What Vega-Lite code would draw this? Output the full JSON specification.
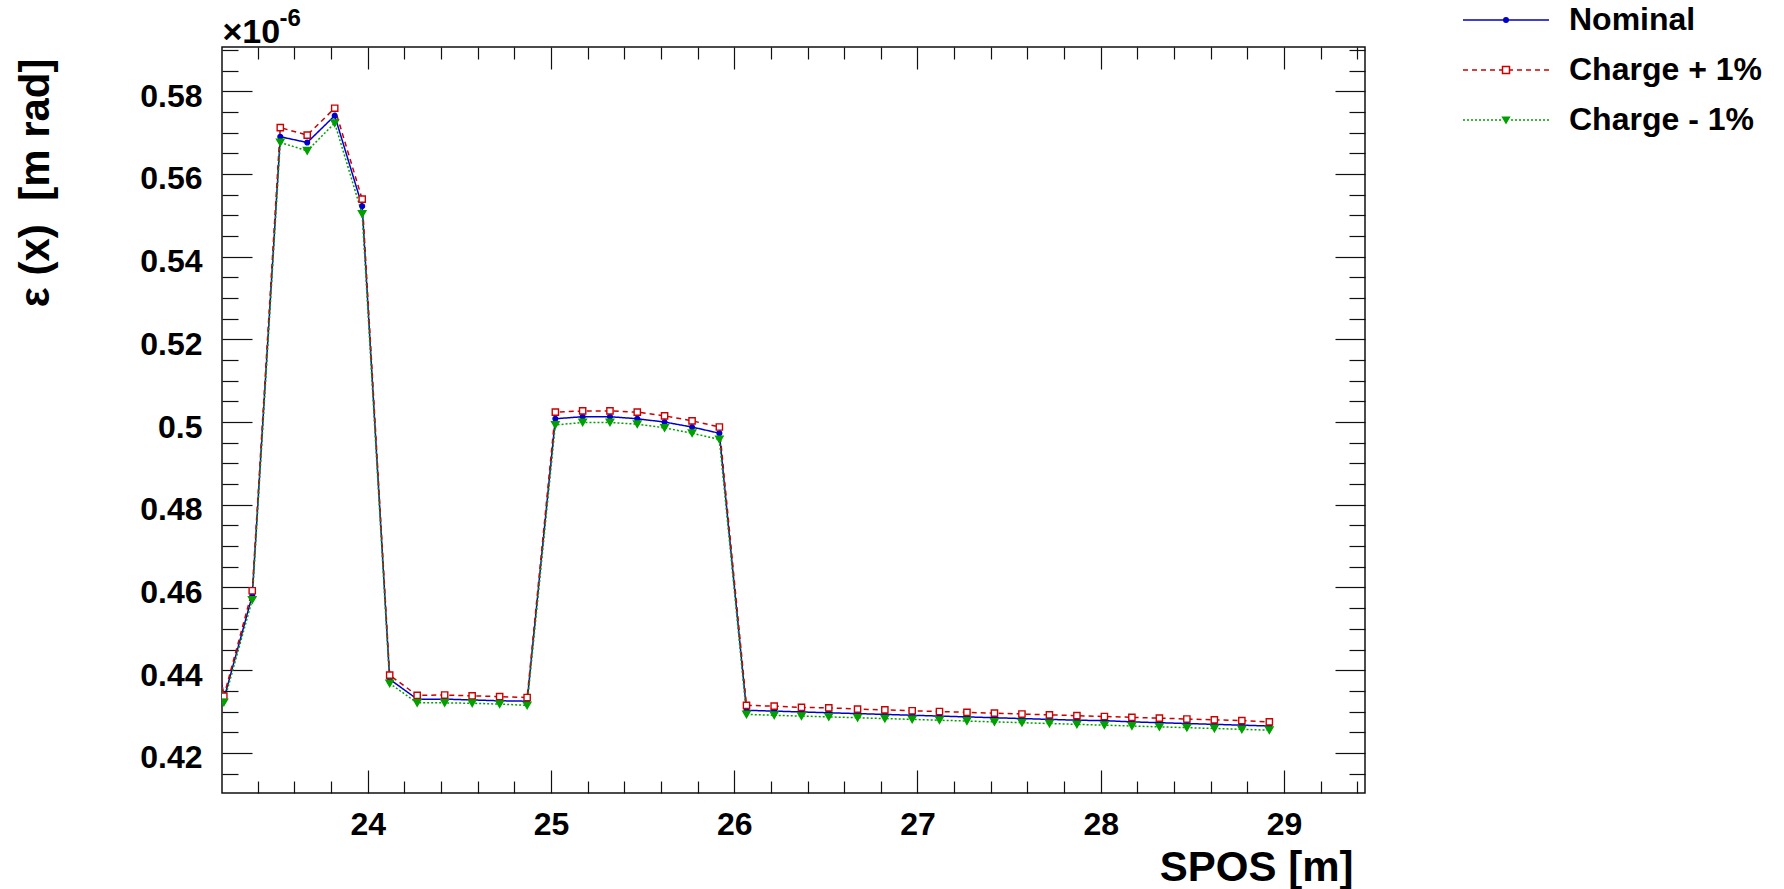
{
  "$schema": "https://vega.github.io/schema/vega-lite/v6.json",
  "width": 1143,
  "height": 746,
  "autosize": {"type": "none"},
  "padding": {"left": 222, "top": 47, "right": 419, "bottom": 96},
  "background": "white",
  "config": {
    "view": {"stroke": "#111111", "strokeWidth": 1.5},
    "font": "Liberation Sans",
    "axis": {
      "domain": false,
      "grid": false,
      "tickColor": "#111111",
      "tickWidth": 1.2,
      "labelFont": "Liberation Sans",
      "labelFontWeight": "bold",
      "labelFontSize": 32,
      "labelColor": "black",
      "titleFont": "Liberation Sans",
      "titleFontWeight": "bold",
      "titleFontSize": 42,
      "titleColor": "black",
      "zindex": 1
    },
    "legend": {
      "orient": "none",
      "legendX": 1268,
      "legendY": -43,
      "title": null,
      "padding": 0,
      "labelFont": "Liberation Sans",
      "labelFontSize": 32,
      "labelFontWeight": "bold",
      "labelColor": "black",
      "labelLimit": 0,
      "labelOffset": 47,
      "rowPadding": 18,
      "symbolSize": 900
    }
  },
  "data": {
    "values": [
      {"s": 23.065, "k": "Nominal", "v": 0.478}, {"s": 23.065, "k": "Charge + 1%", "v": 0.479}, {"s": 23.065, "k": "Charge - 1%", "v": 0.477},
      {"s": 23.215, "k": "Nominal", "v": 0.4330}, {"s": 23.215, "k": "Charge + 1%", "v": 0.4337}, {"s": 23.215, "k": "Charge - 1%", "v": 0.4322},
      {"s": 23.37, "k": "Nominal", "v": 0.4580}, {"s": 23.37, "k": "Charge + 1%", "v": 0.4592}, {"s": 23.37, "k": "Charge - 1%", "v": 0.4570},
      {"s": 23.523, "k": "Nominal", "v": 0.5690}, {"s": 23.523, "k": "Charge + 1%", "v": 0.5712}, {"s": 23.523, "k": "Charge - 1%", "v": 0.5676},
      {"s": 23.67, "k": "Nominal", "v": 0.5676}, {"s": 23.67, "k": "Charge + 1%", "v": 0.5694}, {"s": 23.67, "k": "Charge - 1%", "v": 0.5656},
      {"s": 23.82, "k": "Nominal", "v": 0.5741}, {"s": 23.82, "k": "Charge + 1%", "v": 0.5759}, {"s": 23.82, "k": "Charge - 1%", "v": 0.5723},
      {"s": 23.97, "k": "Nominal", "v": 0.5522}, {"s": 23.97, "k": "Charge + 1%", "v": 0.5539}, {"s": 23.97, "k": "Charge - 1%", "v": 0.5503},
      {"s": 24.12, "k": "Nominal", "v": 0.4378}, {"s": 24.12, "k": "Charge + 1%", "v": 0.4388}, {"s": 24.12, "k": "Charge - 1%", "v": 0.4368},
      {"s": 24.27, "k": "Nominal", "v": 0.4330}, {"s": 24.27, "k": "Charge + 1%", "v": 0.4339}, {"s": 24.27, "k": "Charge - 1%", "v": 0.4321},
      {"s": 24.42, "k": "Nominal", "v": 0.4330}, {"s": 24.42, "k": "Charge + 1%", "v": 0.4340}, {"s": 24.42, "k": "Charge - 1%", "v": 0.4321},
      {"s": 24.57, "k": "Nominal", "v": 0.4328}, {"s": 24.57, "k": "Charge + 1%", "v": 0.4338}, {"s": 24.57, "k": "Charge - 1%", "v": 0.4320},
      {"s": 24.72, "k": "Nominal", "v": 0.4326}, {"s": 24.72, "k": "Charge + 1%", "v": 0.4336}, {"s": 24.72, "k": "Charge - 1%", "v": 0.4318},
      {"s": 24.87, "k": "Nominal", "v": 0.4325}, {"s": 24.87, "k": "Charge + 1%", "v": 0.4334}, {"s": 24.87, "k": "Charge - 1%", "v": 0.4315},
      {"s": 25.024, "k": "Nominal", "v": 0.5008}, {"s": 25.024, "k": "Charge + 1%", "v": 0.5024}, {"s": 25.024, "k": "Charge - 1%", "v": 0.4993},
      {"s": 25.173, "k": "Nominal", "v": 0.5013}, {"s": 25.173, "k": "Charge + 1%", "v": 0.5027}, {"s": 25.173, "k": "Charge - 1%", "v": 0.4999},
      {"s": 25.322, "k": "Nominal", "v": 0.5013}, {"s": 25.322, "k": "Charge + 1%", "v": 0.5027}, {"s": 25.322, "k": "Charge - 1%", "v": 0.4999},
      {"s": 25.471, "k": "Nominal", "v": 0.5008}, {"s": 25.471, "k": "Charge + 1%", "v": 0.5024}, {"s": 25.471, "k": "Charge - 1%", "v": 0.4995},
      {"s": 25.62, "k": "Nominal", "v": 0.5000}, {"s": 25.62, "k": "Charge + 1%", "v": 0.5015}, {"s": 25.62, "k": "Charge - 1%", "v": 0.4986},
      {"s": 25.77, "k": "Nominal", "v": 0.4988}, {"s": 25.77, "k": "Charge + 1%", "v": 0.5003}, {"s": 25.77, "k": "Charge - 1%", "v": 0.4973},
      {"s": 25.919, "k": "Nominal", "v": 0.4973}, {"s": 25.919, "k": "Charge + 1%", "v": 0.4988}, {"s": 25.919, "k": "Charge - 1%", "v": 0.4958},
      {"s": 26.067, "k": "Nominal", "v": 0.4303}, {"s": 26.067, "k": "Charge + 1%", "v": 0.4315}, {"s": 26.067, "k": "Charge - 1%", "v": 0.4293},
      {"s": 26.218, "k": "Nominal", "v": 0.4301}, {"s": 26.218, "k": "Charge + 1%", "v": 0.4313}, {"s": 26.218, "k": "Charge - 1%", "v": 0.4291},
      {"s": 26.367, "k": "Nominal", "v": 0.4299}, {"s": 26.367, "k": "Charge + 1%", "v": 0.4310}, {"s": 26.367, "k": "Charge - 1%", "v": 0.4289},
      {"s": 26.516, "k": "Nominal", "v": 0.4297}, {"s": 26.516, "k": "Charge + 1%", "v": 0.4309}, {"s": 26.516, "k": "Charge - 1%", "v": 0.4287},
      {"s": 26.673, "k": "Nominal", "v": 0.4295}, {"s": 26.673, "k": "Charge + 1%", "v": 0.4306}, {"s": 26.673, "k": "Charge - 1%", "v": 0.4285},
      {"s": 26.822, "k": "Nominal", "v": 0.4293}, {"s": 26.822, "k": "Charge + 1%", "v": 0.4304}, {"s": 26.822, "k": "Charge - 1%", "v": 0.4283},
      {"s": 26.971, "k": "Nominal", "v": 0.4291}, {"s": 26.971, "k": "Charge + 1%", "v": 0.4302}, {"s": 26.971, "k": "Charge - 1%", "v": 0.4281},
      {"s": 27.12, "k": "Nominal", "v": 0.4289}, {"s": 27.12, "k": "Charge + 1%", "v": 0.4300}, {"s": 27.12, "k": "Charge - 1%", "v": 0.4279},
      {"s": 27.27, "k": "Nominal", "v": 0.4287}, {"s": 27.27, "k": "Charge + 1%", "v": 0.4298}, {"s": 27.27, "k": "Charge - 1%", "v": 0.4277},
      {"s": 27.42, "k": "Nominal", "v": 0.4285}, {"s": 27.42, "k": "Charge + 1%", "v": 0.4296}, {"s": 27.42, "k": "Charge - 1%", "v": 0.4275},
      {"s": 27.57, "k": "Nominal", "v": 0.4283}, {"s": 27.57, "k": "Charge + 1%", "v": 0.4294}, {"s": 27.57, "k": "Charge - 1%", "v": 0.4273},
      {"s": 27.72, "k": "Nominal", "v": 0.4281}, {"s": 27.72, "k": "Charge + 1%", "v": 0.4292}, {"s": 27.72, "k": "Charge - 1%", "v": 0.4271},
      {"s": 27.87, "k": "Nominal", "v": 0.4279}, {"s": 27.87, "k": "Charge + 1%", "v": 0.4290}, {"s": 27.87, "k": "Charge - 1%", "v": 0.4269},
      {"s": 28.02, "k": "Nominal", "v": 0.4278}, {"s": 28.02, "k": "Charge + 1%", "v": 0.4288}, {"s": 28.02, "k": "Charge - 1%", "v": 0.4267},
      {"s": 28.17, "k": "Nominal", "v": 0.4275}, {"s": 28.17, "k": "Charge + 1%", "v": 0.4286}, {"s": 28.17, "k": "Charge - 1%", "v": 0.4265},
      {"s": 28.32, "k": "Nominal", "v": 0.4273}, {"s": 28.32, "k": "Charge + 1%", "v": 0.4284}, {"s": 28.32, "k": "Charge - 1%", "v": 0.4263},
      {"s": 28.47, "k": "Nominal", "v": 0.4271}, {"s": 28.47, "k": "Charge + 1%", "v": 0.4282}, {"s": 28.47, "k": "Charge - 1%", "v": 0.4261},
      {"s": 28.62, "k": "Nominal", "v": 0.4269}, {"s": 28.62, "k": "Charge + 1%", "v": 0.4280}, {"s": 28.62, "k": "Charge - 1%", "v": 0.4259},
      {"s": 28.77, "k": "Nominal", "v": 0.4267}, {"s": 28.77, "k": "Charge + 1%", "v": 0.4278}, {"s": 28.77, "k": "Charge - 1%", "v": 0.4257},
      {"s": 28.92, "k": "Nominal", "v": 0.4265}, {"s": 28.92, "k": "Charge + 1%", "v": 0.4275}, {"s": 28.92, "k": "Charge - 1%", "v": 0.4255}
    ]
  },
  "layer": [
    {
      "mark": {"type": "line", "clip": true, "strokeWidth": 1.5},
      "encoding": {
        "x": {
          "field": "s", "type": "quantitative",
          "scale": {"domain": [23.205, 29.442], "nice": false, "zero": false},
          "axis": {
            "orient": "bottom",
            "values": [23.4, 23.6, 23.8, 24, 24.2, 24.4, 24.6, 24.8, 25, 25.2, 25.4, 25.6, 25.8, 26, 26.2, 26.4, 26.6, 26.8, 27, 27.2, 27.4, 27.6, 27.8, 28, 28.2, 28.4, 28.6, 28.8, 29, 29.2, 29.4],
            "format": "~g",
            "tickSize": {"condition": {"test": "abs(datum.value - round(datum.value)) < 1e-6", "value": -23}, "value": -12},
            "labelExpr": "abs(datum.value - round(datum.value)) < 1e-6 ? datum.label : ''",
            "labelPadding": 39,
            "labelFlush": false,
            "labelOverlap": false,
            "title": "SPOS [m]",
            "titleX": 1131,
            "titleY": 87,
            "titleAlign": "right",
            "titleAnchor": "end",
            "titleBaseline": "alphabetic"
          }
        },
        "y": {
          "field": "v", "type": "quantitative",
          "scale": {"domain": [0.4103, 0.5907], "nice": false, "zero": false},
          "axis": {
            "orient": "left",
            "values": [0.415, 0.42, 0.425, 0.43, 0.435, 0.44, 0.445, 0.45, 0.455, 0.46, 0.465, 0.47, 0.475, 0.48, 0.485, 0.49, 0.495, 0.5, 0.505, 0.51, 0.515, 0.52, 0.525, 0.53, 0.535, 0.54, 0.545, 0.55, 0.555, 0.56, 0.565, 0.57, 0.575, 0.58, 0.585, 0.59],
            "format": "~g",
            "tickSize": {"condition": {"test": "abs(datum.value * 50 - round(datum.value * 50)) < 1e-6", "value": -30}, "value": -16},
            "labelExpr": "abs(datum.value * 50 - round(datum.value * 50)) < 1e-6 ? datum.label : ''",
            "labelPadding": 50,
            "labelOffset": 5,
            "labelFlush": false,
            "labelOverlap": false,
            "title": "ε (x)\u00a0\u00a0[m rad]",
            "titleX": -174,
            "titleY": 11,
            "titleAngle": 270,
            "titleAlign": "right",
            "titleAnchor": "end",
            "titleBaseline": "alphabetic"
          }
        },
        "color": {
          "field": "k", "type": "nominal",
          "scale": {"domain": ["Nominal", "Charge + 1%", "Charge - 1%"], "range": ["#0000cc", "#cc0000", "#00a000"]},
          "legend": null
        },
        "strokeDash": {
          "field": "k", "type": "nominal",
          "scale": {"domain": ["Nominal", "Charge + 1%", "Charge - 1%"], "range": [[1, 0], [5, 4], [2, 2]]},
          "legend": null
        }
      }
    },
    {
      "mark": {"type": "point", "clip": true, "filled": false, "strokeWidth": 1.4, "opacity": 1},
      "encoding": {
        "x": {
          "field": "s", "type": "quantitative",
          "axis": {
            "orient": "top",
            "values": [23.4, 23.6, 23.8, 24, 24.2, 24.4, 24.6, 24.8, 25, 25.2, 25.4, 25.6, 25.8, 26, 26.2, 26.4, 26.6, 26.8, 27, 27.2, 27.4, 27.6, 27.8, 28, 28.2, 28.4, 28.6, 28.8, 29, 29.2, 29.4],
            "tickSize": {"condition": {"test": "abs(datum.value - round(datum.value)) < 1e-6", "value": -22}, "value": -12},
            "labels": false,
            "title": "×10",
            "titleFontSize": 34,
            "titleX": 0,
            "titleY": -5,
            "titleAlign": "left",
            "titleAnchor": "start",
            "titleBaseline": "alphabetic",
            "titleAngle": 0
          }
        },
        "y": {
          "field": "v", "type": "quantitative",
          "axis": {
            "orient": "right",
            "values": [0.415, 0.42, 0.425, 0.43, 0.435, 0.44, 0.445, 0.45, 0.455, 0.46, 0.465, 0.47, 0.475, 0.48, 0.485, 0.49, 0.495, 0.5, 0.505, 0.51, 0.515, 0.52, 0.525, 0.53, 0.535, 0.54, 0.545, 0.55, 0.555, 0.56, 0.565, 0.57, 0.575, 0.58, 0.585, 0.59],
            "tickSize": {"condition": {"test": "abs(datum.value * 50 - round(datum.value * 50)) < 1e-6", "value": -30}, "value": -16},
            "labels": false,
            "title": null
          }
        },
        "color": {
          "field": "k", "type": "nominal",
          "scale": {"domain": ["Nominal", "Charge + 1%", "Charge - 1%"], "range": ["#0000cc", "#cc0000", "#00a000"]},
          "legend": null
        },
        "fill": {
          "field": "k", "type": "nominal",
          "scale": {"domain": ["Nominal", "Charge + 1%", "Charge - 1%"], "range": ["#0000cc", "white", "#00a000"]},
          "legend": null
        },
        "shape": {
          "field": "k", "type": "nominal",
          "scale": {"domain": ["Nominal", "Charge + 1%", "Charge - 1%"], "range": ["circle", "square", "triangle-down"]},
          "legend": null
        },
        "size": {
          "field": "k", "type": "nominal",
          "scale": {"domain": ["Nominal", "Charge + 1%", "Charge - 1%"], "range": [22, 56, 40]},
          "legend": null
        }
      }
    },
    {
      "transform": [{"filter": "datum.s < 0"}],
      "mark": {"type": "point", "clip": true, "filled": false, "strokeWidth": 1.3, "opacity": 1, "size": 900},
      "encoding": {
        "x": {"field": "s", "type": "quantitative", "axis": null},
        "y": {
          "field": "v", "type": "quantitative",
          "axis": {
            "orient": "left",
            "ticks": false,
            "labels": false,
            "domain": false,
            "title": "-6",
            "titleFontSize": 24,
            "titleX": 57,
            "titleY": -22,
            "titleAlign": "left",
            "titleAnchor": "start",
            "titleBaseline": "alphabetic",
            "titleAngle": 0
          }
        },
        "color": {
          "field": "k", "type": "nominal",
          "scale": {"domain": ["Nominal", "Charge + 1%", "Charge - 1%"], "range": ["#0000cc", "#cc0000", "#00a000"]},
          "legend": {"title": null}
        },
        "fill": {
          "field": "k", "type": "nominal",
          "scale": {"domain": ["Nominal", "Charge + 1%", "Charge - 1%"], "range": ["#0000cc", "white", "#00a000"]},
          "legend": {"title": null}
        },
        "shape": {
          "field": "k", "type": "nominal",
          "scale": {"domain": ["Nominal", "Charge + 1%", "Charge - 1%"], "range": ["M-2.867,0H2.867M0.15,0A0.15,0.15 0 1,1 -0.15,0A0.15,0.15 0 1,1 0.15,0Z", "M-2.867,0H-2.533M-2.267,0H-1.933M-1.667,0H-1.333M-1.067,0H-0.733M-0.467,0H-0.233M0.233,0H0.467M0.733,0H1.067M1.333,0H1.667M1.933,0H2.267M2.533,0H2.867M-0.233,-0.233H0.233V0.233H-0.233Z", "M-2.867,0H-2.733M-2.6,0H-2.467M-2.333,0H-2.2M-2.067,0H-1.933M-1.8,0H-1.667M-1.533,0H-1.4M-1.267,0H-1.133M-1,0H-0.867M-0.733,0H-0.6M-0.467,0H-0.333M0.333,0H0.467M0.6,0H0.733M0.867,0H1M1.133,0H1.267M1.4,0H1.533M1.667,0H1.8M1.933,0H2.067M2.2,0H2.333M2.467,0H2.6M2.733,0H2.867M-0.22,-0.18H0.22L0,0.2Z"]},
          "legend": {"title": null}
        }
      }
    }
  ],
  "resolve": {
    "axis": {"x": "independent", "y": "independent"},
    "scale": {"shape": "independent", "fill": "independent", "color": "independent"},
    "legend": {"shape": "independent", "fill": "independent", "color": "independent"}
  }
}
